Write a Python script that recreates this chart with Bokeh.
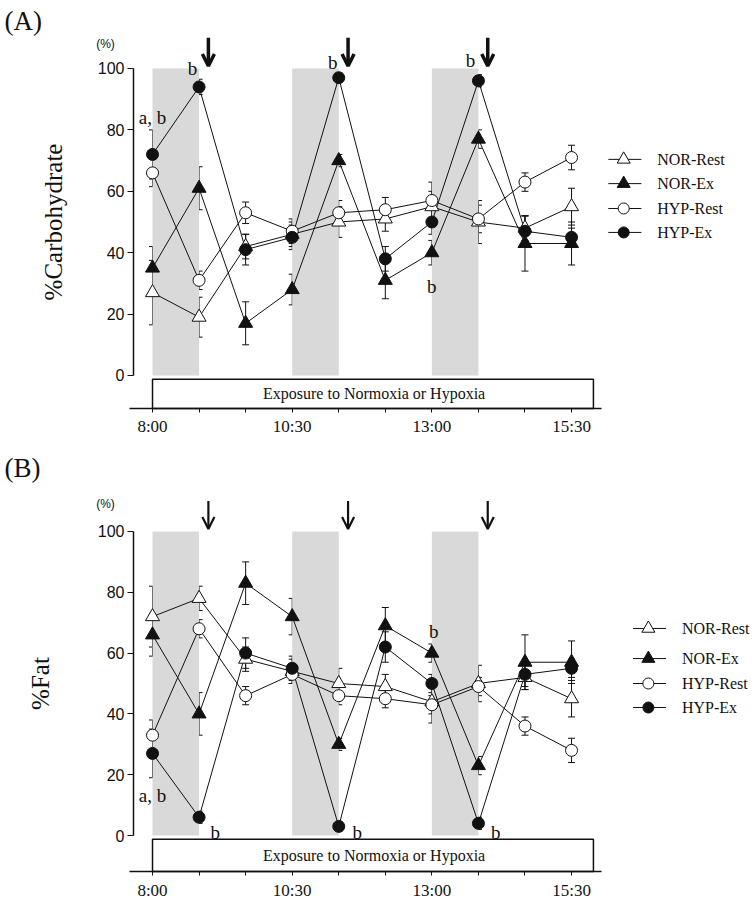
from bokeh.plotting import figure
from bokeh.models import (ColumnDataSource, Whisker, TeeHead, Arrow, OpenHead,
                          FixedTicker, Range1d)
from bokeh.layouts import column
from bokeh.core.properties import value
from bokeh.embed import file_html
from bokeh.resources import INLINE

# ---------------- data ----------------
times = ["8:00", "8:50", "9:40", "10:30", "11:20", "12:10", "13:00", "13:50", "14:40", "15:30"]
tick_labels = ["8:00", "10:30", "13:00", "15:30"]
exercise_start = ["8:00", "10:30", "13:00"]
exercise_end = ["8:50", "11:20", "13:50"]
series_names = ["NOR-Rest", "NOR-Ex", "HYP-Rest", "HYP-Ex"]

carb_nor_rest = [27, 19, 42, 46, 50, 51, 55, 50, 48, 55]
carb_nor_rest_se = [10.5, 6.5, 4, 4, 5, 4, 5, 7, 4, 6]
carb_nor_ex = [35, 61, 17, 28, 70, 31, 40, 77, 43, 43]
carb_nor_ex_se = [7, 7, 7, 5, 2, 6, 4, 3, 9, 7]
carb_hyp_rest = [66, 31, 53, 47, 53, 54, 57, 51, 63, 71]
carb_hyp_rest_se = [4.5, 3, 3.5, 4, 4, 4, 6, 4.5, 3, 4]
carb_hyp_ex = [72, 94, 41, 45, 97, 38, 50, 96, 47, 45]
carb_hyp_ex_se = [8, 2.5, 5, 4, 1.5, 4, 4, 2, 5, 3]

fat_nor_rest = [72, 78, 58, 54, 50, 49, 44, 50, 52, 45]
fat_nor_rest_se = [10, 4, 4, 4, 5, 4, 7, 6, 4, 6]
fat_nor_ex = [66, 40, 83, 72, 30, 69, 60, 23, 57, 57]
fat_nor_ex_se = [7, 7, 7, 6, 2, 6, 3, 3, 9, 7]
fat_hyp_rest = [33, 68, 46, 53, 46, 45, 43, 49, 36, 28]
fat_hyp_rest_se = [5, 3, 3, 3, 3, 3, 3, 3, 3, 4]
fat_hyp_ex = [27, 6, 60, 55, 3, 62, 50, 4, 53, 55]
fat_hyp_ex_se = [8, 2, 5, 4, 1.5, 5, 3, 2, 4, 3]

SERIF = "Liberation Serif"
SANS = "Liberation Sans"
INK = "#111111"

marker_styles = {
    "NOR-Rest": dict(marker="triangle", fill_color="white", size=14),
    "NOR-Ex": dict(marker="triangle", fill_color=INK, size=14),
    "HYP-Rest": dict(marker="circle", fill_color="white", size=12),
    "HYP-Ex": dict(marker="circle", fill_color=INK, size=12),
}

FIG_W = 755
X_LEFT, X_RIGHT = -3.265, 12.951   # full figure width in index units
Y_AXIS_AT = -0.408                   # where the y axis sits


def make_panel(series, ylabel, panel_letter, letter_y, pct_y, y_range, axis_y, height,
               legend_x, legend_y, sig_labels, arrow_width, label_standoff):
    idx = list(range(len(times)))
    p = figure(width=FIG_W, height=height,
               x_range=Range1d(X_LEFT, X_RIGHT), y_range=Range1d(*y_range),
               output_backend="svg", toolbar_location=None, min_border=0)
    p.outline_line_color = None
    p.grid.visible = False

    # exercise shading
    p.quad(left=[times.index(t) for t in exercise_start],
           right=[times.index(t) for t in exercise_end],
           bottom=0, top=100, fill_color="#d9d9d9", line_color=None)

    # exposure box
    p.quad(left=[0], right=[9.47], bottom=[axis_y], top=[-1.2],
           fill_color="white", line_color=INK, line_width=1.5)
    p.text(x=[4.76], y=[(axis_y - 1.2) / 2], text=["Exposure to Normoxia or Hypoxia"],
           text_align="center", text_baseline="middle",
           text_font=value(SERIF), text_font_size="16px", text_color=INK)

    for name, (vals, se) in zip(series_names, series):
        src = ColumnDataSource(dict(x=idx, y=vals,
                                    lo=[v - s for v, s in zip(vals, se)],
                                    hi=[v + s for v, s in zip(vals, se)]))
        p.line("x", "y", source=src, line_color=INK, line_width=1)
        w = Whisker(source=src, base="x", lower="lo", upper="hi", dimension="height",
                    line_color=INK, line_width=1,
                    lower_head=TeeHead(size=7, line_color=INK, line_width=1),
                    upper_head=TeeHead(size=7, line_color=INK, line_width=1))
        p.add_layout(w)
    for name, (vals, se) in zip(series_names, series):
        st = marker_styles[name]
        p.scatter(idx, vals, marker=st["marker"], size=st["size"],
                  fill_color=st["fill_color"], line_color=INK, line_width=1)

    # legend (manual)
    for i, name in enumerate(series_names):
        st = marker_styles[name]
        yy = legend_y[i]
        p.line([legend_x - 0.33, legend_x + 0.38], [yy, yy], line_color=INK, line_width=1)
        p.scatter([legend_x], [yy], marker=st["marker"], size=st["size"] - 1,
                  fill_color=st["fill_color"], line_color=INK, line_width=1)
        p.text(x=[legend_x + 0.72], y=[yy], text=[name], text_align="left",
               text_baseline="middle", text_font=value(SERIF),
               text_font_size="16px", text_color=INK)

    # significance letters
    for (lx, ly, lt) in sig_labels:
        p.text(x=[lx], y=[ly], text=[lt], text_align="center", text_baseline="middle",
               text_font=value(SERIF), text_font_size="19px", text_color=INK)

    # arrows after each exercise bout
    for t in exercise_end:
        ax = times.index(t) + 0.2
        p.add_layout(Arrow(x_start=ax, y_start=110, x_end=ax, y_end=100.8,
                           line_width=arrow_width, line_color=INK,
                           end=OpenHead(size=12, line_width=arrow_width, line_color=INK)))

    # panel letter and unit
    p.text(x=[-3.18], y=[letter_y], text=[panel_letter], text_align="left",
           text_baseline="middle", text_font=value(SERIF), text_font_size="27px",
           text_color=INK)
    p.text(x=[-1.01], y=[pct_y], text=["(%)"], text_align="center",
           text_baseline="middle", text_font=value(SANS), text_font_size="12px",
           text_color=INK)

    # axes (fixed inside the frame)
    xa = p.xaxis[0]
    xa.fixed_location = axis_y
    xa.ticker = FixedTicker(ticks=idx)
    xa.major_label_overrides = {i: (t if t in tick_labels else "") for i, t in enumerate(times)}
    xa.bounds = (-0.49, 9.65)
    xa.major_tick_out = 4
    xa.major_tick_in = 0
    xa.minor_tick_line_color = None
    xa.axis_line_width = 1.5
    xa.axis_line_color = INK
    xa.major_tick_line_color = INK
    xa.major_label_text_font = SERIF
    xa.major_label_text_font_size = "17px"
    xa.major_label_text_color = INK
    xa.major_label_standoff = 5

    ya = p.yaxis[0]
    ya.fixed_location = Y_AXIS_AT
    ya.ticker = FixedTicker(ticks=[0, 20, 40, 60, 80, 100])
    ya.bounds = (0, 100)
    ya.major_tick_out = 6
    ya.major_tick_in = 0
    ya.minor_tick_line_color = None
    ya.axis_line_width = 1.5
    ya.axis_line_color = INK
    ya.major_tick_line_color = INK
    ya.major_label_text_font = SANS
    ya.major_label_text_font_size = "16px"
    ya.major_label_text_color = INK
    ya.major_label_standoff = 3
    ya.axis_label = ylabel
    ya.axis_label_text_font = SERIF
    ya.axis_label_text_font_style = "normal"
    ya.axis_label_text_font_size = "25px"
    ya.axis_label_text_color = INK
    ya.axis_label_standoff = label_standoff
    return p


carb_series = [(carb_nor_rest, carb_nor_rest_se), (carb_nor_ex, carb_nor_ex_se),
               (carb_hyp_rest, carb_hyp_rest_se), (carb_hyp_ex, carb_hyp_ex_se)]
fat_series = [(fat_nor_rest, fat_nor_rest_se), (fat_nor_ex, fat_nor_ex_se),
              (fat_hyp_rest, fat_hyp_rest_se), (fat_hyp_ex, fat_hyp_ex_se)]

# panel A: value v -> picture y = 375 - 3.07 v ; figure spans y 0..448
pA = make_panel(carb_series, "%Carbohydrate", "(A)", 115.6, 108.1,
                (-23.78, 122.15), -10.75, 448, 10.12, [70.4, 62.5, 54.4, 46.6],
                [(0.0, 84, "a, b"), (0.86, 100, "b"), (3.87, 102, "b"),
                 (6.83, 102.6, "b"), (6.0, 29, "b")], 3.5, 28)

# panel B: value v -> picture y = 835 - 3.04 v ; figure spans y 448..899
pB = make_panel(fat_series, "%Fat", "(B)", 121.05, 109.2,
                (-21.05, 127.3), -11.84, 451, 10.65, [68.1, 58.2, 50.0, 42.1],
                [(0.0, 13, "a, b"), (1.35, 1, "b"), (4.4, 1, "b"),
                 (7.37, 1, "b"), (6.04, 67, "b")], 2.2, 41)

layout = column(pA, pB, spacing=0)
open("out.html", "w").write(file_html(layout, INLINE))
